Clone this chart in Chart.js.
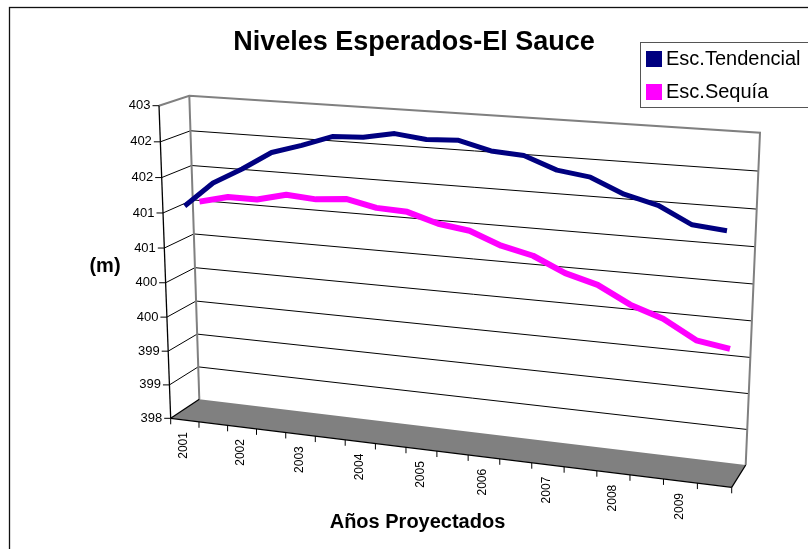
<!DOCTYPE html>
<html><head><meta charset="utf-8">
<style>html,body{margin:0;padding:0;background:#fff}#w{width:808px;height:549px}canvas{display:block}</style>
<script src="https://cdn.jsdelivr.net/npm/chart.js@4"></script></head>
<body><div id="w"><canvas id="c" width="808" height="549"></canvas></div>
<script>
const categories=['2001','','2002','','2003','','2004','','2005','','2006','','2007','','2008','','2009',''];
const tendencial=[401.07,401.43,401.66,401.92,402.05,402.20,402.22,402.30,402.25,402.27,402.16,402.13,401.97,401.91,401.72,401.61,401.39,401.35];
const sequia=[401.04,401.14,401.14,401.24,401.21,401.25,401.16,401.14,401.01,400.95,400.78,400.68,400.48,400.36,400.13,399.98,399.73,399.66];
const chartTitle='Niveles Esperados-El Sauce';
const xTitle='Años Proyectados';
const yTitle='(m)';
const FONT='"Liberation Sans", Arial, sans-serif';
// corners of the 3D box on screen
const F={bl:[170.7,418.3],br:[731.7,487.3],tl:[159,105.7],tr:[744,146]};
const B={bl:[199.3,399.3],br:[745.7,465],tl:[189.3,95.7],tr:[760,132.7]};
const mix=(a,b,t)=>[a[0]+(b[0]-a[0])*t,a[1]+(b[1]-a[1])*t];
const warp=(v,k)=>v/(v+k*(1-v));
function proj(u,t,d){
  const uu=warp(u,1.1075),tt=warp(t,1.045);
  const bot=mix(mix(F.bl,B.bl,d),mix(F.br,B.br,d),uu);
  const top=mix(mix(F.tl,B.tl,d),mix(F.tr,B.tr,d),uu);
  return mix(bot,top,tt);
}
const depth=[0.25,0.75];
function seg(ctx,a,b){ctx.beginPath();ctx.moveTo(a[0],a[1]);ctx.lineTo(b[0],b[1]);ctx.stroke();}
const box3d={id:'box3d',
  afterDatasetsUpdate(chart){
    const a=chart.chartArea;
    chart.data.datasets.forEach((ds,i)=>{
      const m=chart.getDatasetMeta(i);
      m.data.forEach(p=>{
        const q=proj((p.x-a.left)/(a.right-a.left),(a.bottom-p.y)/(a.bottom-a.top),depth[i]);
        p.x=q[0];p.y=q[1];
      });
    });
  },
  beforeDatasetsDraw(chart){
    const ctx=chart.ctx,ys=chart.scales.y,xs=chart.scales.x,a=chart.chartArea;
    const tOf=v=>(a.bottom-ys.getPixelForValue(v))/(a.bottom-a.top);
    ctx.save();
    ctx.fillStyle='#808080';ctx.beginPath();
    [F.bl,B.bl,B.br,F.br].forEach((p,i)=>i?ctx.lineTo(p[0],p[1]):ctx.moveTo(p[0],p[1]));
    ctx.closePath();ctx.fill();
    // grid on side wall and back wall, y ticks and labels
    ctx.strokeStyle='#000';ctx.lineWidth=1;
    ctx.font='13px '+FONT;ctx.textAlign='right';ctx.textBaseline='middle';ctx.fillStyle='#000';
    ys.ticks.forEach(tk=>{
      const t=tOf(tk.value);
      const f=proj(0,t,0),b=proj(0,t,1),r=proj(1,t,1);
      if(t>0.001&&t<0.999){seg(ctx,f,b);seg(ctx,b,r);}
      seg(ctx,[f[0]-6.5,f[1]],f);
      ctx.fillText(tk.label,f[0]-8.5,f[1]);
    });
    // gray wall edges
    ctx.strokeStyle='#808080';ctx.lineWidth=2;
    ctx.beginPath();
    [F.tl,B.tl,B.tr,B.br].forEach((p,i)=>i?ctx.lineTo(p[0],p[1]):ctx.moveTo(p[0],p[1]));
    ctx.stroke();
    seg(ctx,B.tl,B.bl);
    // axes
    ctx.strokeStyle='#000';ctx.lineWidth=1.3;
    seg(ctx,F.tl,F.bl);seg(ctx,F.bl,F.br);seg(ctx,F.bl,B.bl);seg(ctx,F.br,B.br);
    // x ticks and labels
    ctx.lineWidth=1;
    const n=categories.length;
    for(let i=0;i<=n;i++){
      const p=proj(i/n,0,0);
      seg(ctx,p,[p[0],p[1]+6]);
    }
    ctx.font='12px '+FONT;
    categories.forEach((lab,i)=>{
      if(!lab)return;
      const u=(xs.getPixelForValue(i)-a.left)/(a.right-a.left);
      const p=proj(u,0,0);
      ctx.save();ctx.translate(p[0]-1,p[1]+12);ctx.rotate(-Math.PI/2);
      ctx.textAlign='right';ctx.textBaseline='middle';ctx.fillText(lab,0,0);
      ctx.restore();
    });
    ctx.restore();
  },
  afterDraw(chart){
    const ctx=chart.ctx;
    ctx.save();
    ctx.strokeStyle='#111';ctx.lineWidth=1.3;
    ctx.strokeRect(9.5,7.5,810,600);
    // axis titles
    ctx.fillStyle='#000';ctx.font='bold 20px '+FONT;ctx.textAlign='center';ctx.textBaseline='alphabetic';
    ctx.fillText(xTitle,417.5,528.3);
    ctx.fillText(yTitle,105,271.5);
    // legend
    ctx.fillStyle='#fff';ctx.fillRect(640.5,42.5,170,65);
    ctx.strokeStyle='#555';ctx.lineWidth=1;ctx.strokeRect(640.5,42.5,170,65);
    ctx.font='20px '+FONT;ctx.textAlign='left';
    chart.data.datasets.forEach((ds,i)=>{
      const y=[51,84][i];
      ctx.fillStyle=ds.borderColor;ctx.fillRect(646,y,16,16);
      ctx.fillStyle='#000';ctx.fillText(ds.label,666,[65,97.7][i]);
    });
    ctx.restore();
  }
};
new Chart(document.getElementById('c'),{
  type:'line',
  data:{labels:categories,datasets:[
    {label:'Esc.Tendencial',data:tendencial,borderColor:'#000080',borderWidth:5,pointRadius:0,tension:0,clip:false,borderJoinStyle:'bevel'},
    {label:'Esc.Sequía',data:sequia,borderColor:'#FF00FF',borderWidth:6,pointRadius:0,tension:0,clip:false,borderJoinStyle:'bevel'}
  ]},
  options:{
    responsive:false,animation:false,events:[],
    layout:{padding:{left:20}},
    scales:{
      x:{display:false,offset:true},
      y:{display:false,min:398,max:402.5,ticks:{stepSize:0.5,callback:v=>String(Math.round(v))}}
    },
    plugins:{
      legend:{display:false},tooltip:{enabled:false},
      title:{display:true,text:chartTitle,color:'#000',font:{family:FONT,size:27,weight:'bold'},padding:{top:26,bottom:0}}
    }
  },
  plugins:[box3d]
});
</script></body></html>
